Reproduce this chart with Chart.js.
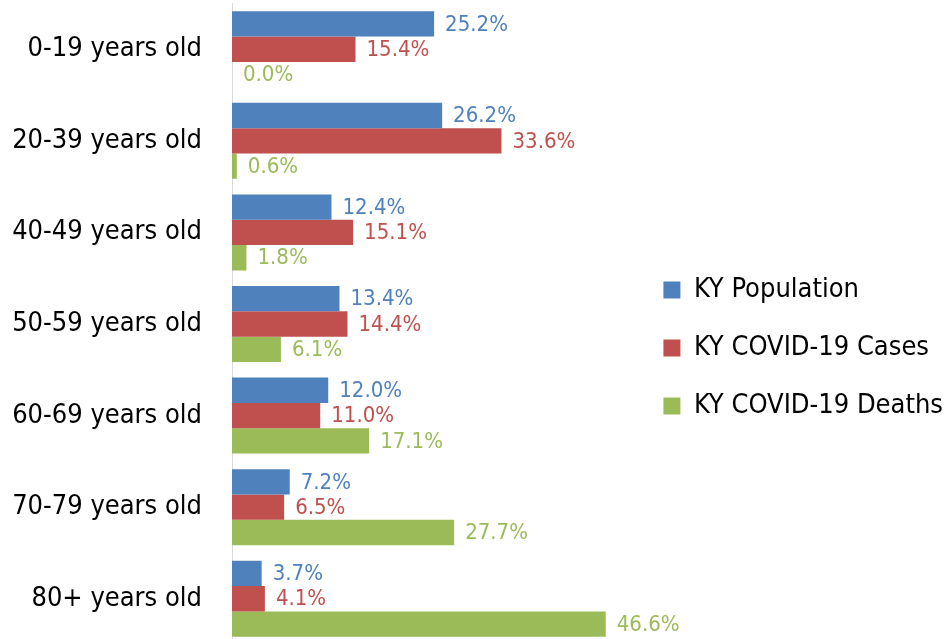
<!DOCTYPE html>
<html>
<head>
<meta charset="utf-8">
<script src="https://cdn.jsdelivr.net/npm/chart.js@4/dist/chart.umd.min.js"></script>
<style>
  html, body { margin: 0; padding: 0; overflow: hidden; background: #fff; }
  #wrap { width: 953px; height: 648px; }
</style>
</head>
<body>
<div id="wrap"><canvas id="chart" width="953" height="648"></canvas></div>
<script>
const ageGroups = ['0-19 years old', '20-39 years old', '40-49 years old', '50-59 years old',
                   '60-69 years old', '70-79 years old', '80+ years old'];
const population = [25.2, 26.2, 12.4, 13.4, 12.0, 7.2, 3.7];
const cases = [15.4, 33.6, 15.1, 14.4, 11.0, 6.5, 4.1];
const deaths = [0.0, 0.6, 1.8, 6.1, 17.1, 27.7, 46.6];
const seriesNames = ['KY Population', 'KY COVID-19 Cases', 'KY COVID-19 Deaths'];

const FONT = "'DejaVu Sans Condensed', 'Liberation Sans Narrow', sans-serif";
const PX_PER_PCT = 8.02;

// value labels at the end of each bar
const barLabels = {
    id: 'barLabels',
    afterDatasetsDraw(chart) {
        const ctx = chart.ctx;
        ctx.save();
        ctx.font = '22px ' + FONT;
        ctx.textBaseline = 'middle';
        ctx.textAlign = 'left';
        chart.data.datasets.forEach((ds, i) => {
            chart.getDatasetMeta(i).data.forEach((bar, j) => {
                ctx.fillStyle = ds.labelColor;
                ctx.fillText(ds.data[j].toFixed(1) + '%', bar.x + 11, bar.y + 1);
            });
        });
        ctx.restore();
    }
};

const chart = new Chart(document.getElementById('chart'), {
    type: 'bar',
    data: {
        labels: ageGroups,
        datasets: [
            { label: seriesNames[0], data: population, backgroundColor: '#4f81bd', labelColor: '#4f81bd' },
            { label: seriesNames[1], data: cases, backgroundColor: '#c0504d', labelColor: '#c0504d' },
            { label: seriesNames[2], data: deaths, backgroundColor: '#9bbb59', labelColor: '#9bbb59' }
        ]
    },
    options: {
        indexAxis: 'y',
        responsive: false,
        animation: false,
        categoryPercentage: 0.83,
        barPercentage: 1.0,
        layout: { padding: { top: 3.5, bottom: 3.5 } },
        scales: {
            x: { display: false, min: 0, max: 55 },
            y: {
                grid: { display: false, drawTicks: false },
                border: { color: '#d9d9d9' },
                ticks: { color: '#000', padding: 30, font: { family: FONT, size: 27 } },
                afterFit(s) {
                    s.width = 232;
                    s.paddingTop = 0;
                    s.paddingBottom = 0;
                }
            }
        },
        plugins: {
            tooltip: { enabled: false },
            legend: {
                position: 'right',
                maxWidth: 420,
                title: { display: true, text: ' ', padding: 18, font: { size: 10 } },
                labels: {
                    boxWidth: 17,
                    boxHeight: 17,
                    padding: 31,
                    color: '#000',
                    font: { family: FONT, size: 27 }
                }
            }
        }
    },
    plugins: [barLabels]
});

// keep the same px-per-percent scale as the original
chart.options.scales.x.max = (chart.chartArea.right - chart.chartArea.left) / PX_PER_PCT;
chart.update();
</script>
</body>
</html>
